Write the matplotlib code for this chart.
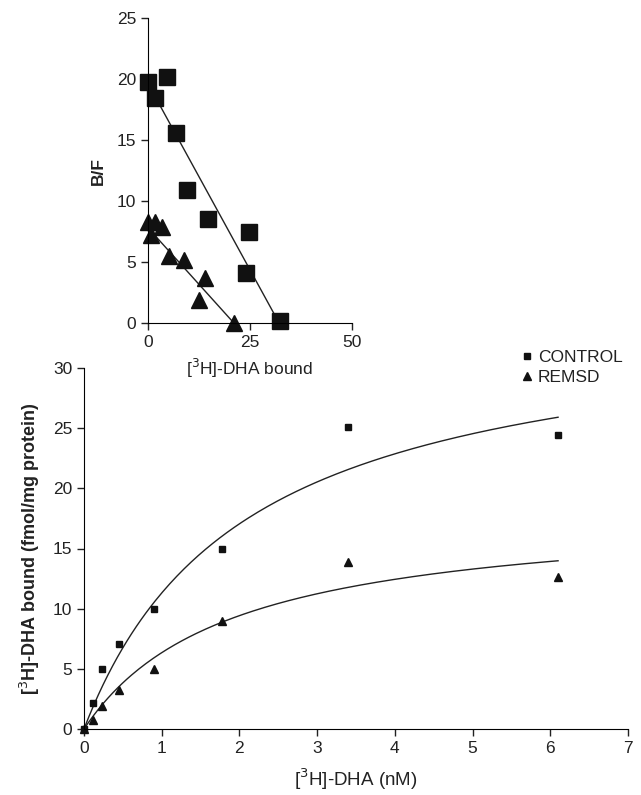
import numpy as np
import matplotlib
matplotlib.use("Agg")
import matplotlib.pyplot as plt
from matplotlib.lines import Line2D

plt.rcParams['font.family'] = ['Liberation Sans', 'DejaVu Sans']

# Saturation data
conc_nM = [0, 0.11, 0.23, 0.45, 0.9, 1.78, 3.4, 6.1]
control_bound = [0, 2.2, 5.0, 7.1, 9.95, 15.0, 25.1, 24.4]
remsd_bound = [0, 0.72, 1.9, 3.25, 4.95, 8.95, 13.9, 12.65]

# Fitted saturation curve parameters (Bmax, Kd)
control_fit = (34.7, 2.07)
remsd_fit = (18.3, 1.885)

# Scatchard data (inset)
sc_control_bound = [0, 4.5, 1.6, 6.8, 9.4, 14.6, 24.8, 24.0, 32.4]
sc_control_bf = [19.8, 20.2, 18.5, 15.6, 10.9, 8.55, 7.5, 4.1, 0.15]
sc_remsd_bound = [0, 0.6, 1.6, 3.3, 5.1, 8.8, 13.9, 12.5, 21.1]
sc_remsd_bf = [8.3, 7.2, 8.3, 7.9, 5.5, 5.2, 3.7, 1.9, 0.0]
# Scatchard regression lines (B/F intercept, bound intercept)
sc_control_line = (19.6, 32.2)
sc_remsd_line = (7.8, 21.1)

W, H = 641, 795
fig = plt.figure(figsize=(W / 100, H / 100), dpi=100)

# ---------- main axes ----------
ax = fig.add_axes([84 / W, 1 - 729 / H, (628 - 84) / W, (729 - 368) / H])
for s in ['top', 'right']:
    ax.spines[s].set_visible(False)
ax.set_xlim(0, 7)
ax.set_ylim(0, 30)
ax.set_xticks(range(0, 8))
ax.set_yticks(range(0, 31, 5))
ax.tick_params(direction='out', length=5, width=1, labelsize=12.5, colors='#222222')

xx = np.linspace(0, conc_nM[-1], 200)
for (bmax, kd) in (control_fit, remsd_fit):
    ax.plot(xx, bmax * xx / (kd + xx), color='#222222', lw=1.0)
ax.plot(conc_nM, control_bound, ls='none', marker='s', ms=5, color='#111111', clip_on=False)
ax.plot(conc_nM, remsd_bound, ls='none', marker='^', ms=5.5, color='#111111', clip_on=False)

ax.set_xlabel('[$^3$H]-DHA (nM)', fontsize=13.5, labelpad=8, color='#222222')
ax.set_ylabel('[$^3$H]-DHA bound (fmol/mg protein)', fontsize=13, fontweight='bold',
              labelpad=8, color='#222222')

handles = [Line2D([], [], ls='none', marker='s', ms=5, color='#111111'),
           Line2D([], [], ls='none', marker='^', ms=6, color='#111111')]
fig.legend(handles, ['CONTROL', 'REMSD'], loc='upper left',
           bbox_to_anchor=(510 / W, 1 - 341 / H), frameon=False, fontsize=12.5,
           handletextpad=0.1, handlelength=1.0, labelspacing=0.3, borderpad=0,
           labelcolor='#222222')

# ---------- inset (Scatchard) ----------
ai = fig.add_axes([148.3 / W, 1 - 323.3 / H, 203.4 / W, 305 / H])
for s in ['top', 'right']:
    ai.spines[s].set_visible(False)
ai.set_xlim(0, 50)
ai.set_ylim(0, 25)
ai.set_xticks([0, 25, 50])
ai.set_yticks(range(0, 26, 5))
ai.tick_params(direction='out', length=5, width=1, labelsize=12.5, colors='#222222')

for (b0, x0) in (sc_control_line, sc_remsd_line):
    lx = np.array([0, x0])
    ai.plot(lx, b0 * (1 - lx / x0), color='#222222', lw=1.0)
ai.plot(sc_control_bound, sc_control_bf, ls='none', marker='s', ms=11, color='#111111', clip_on=False)
ai.plot(sc_remsd_bound, sc_remsd_bf, ls='none', marker='^', ms=12, color='#111111', clip_on=False)

ai.set_xlabel('[$^3$H]-DHA bound', fontsize=12.5, labelpad=5, color='#222222')
ai.set_ylabel('B/F', fontsize=12.5, fontweight='bold', labelpad=8, color='#222222')

fig.savefig('out.png', dpi=100)
